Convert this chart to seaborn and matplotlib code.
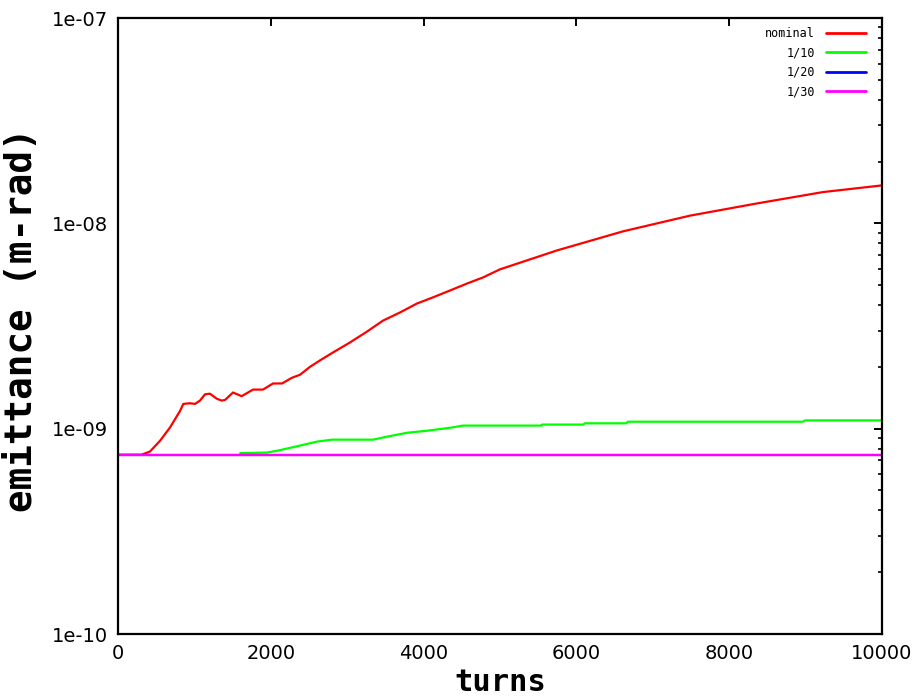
import numpy as np
import pandas as pd
import matplotlib
matplotlib.use("Agg")
import matplotlib.pyplot as plt
import matplotlib.ticker as mticker
import seaborn as sns

# ---- data ----
series_names = ["nominal", "1/10", "1/20", "1/30"]
series_colors = ["#ff0000", "#00ff00", "#0000ff", "#ff00ff"]

nominal_turns = [0, 310, 419, 550, 681, 812, 855, 942, 1008, 1073, 1139, 1204,
                 1292, 1357, 1401, 1505, 1619, 1767, 1898, 2029, 2147, 2277,
                 2382, 2513, 2644, 2814, 3037, 3259, 3469, 3691, 3914, 4123,
                 4346, 4568, 4777, 5000, 5746, 6610, 7487, 8364, 9228, 10000]
nominal_emit = [7.47e-10, 7.47e-10, 7.74e-10, 8.73e-10, 1.014e-9, 1.22e-9,
                1.32e-9, 1.33e-9, 1.32e-9, 1.37e-9, 1.47e-9, 1.48e-9,
                1.40e-9, 1.37e-9, 1.38e-9, 1.50e-9, 1.44e-9, 1.55e-9,
                1.55e-9, 1.66e-9, 1.66e-9, 1.77e-9, 1.83e-9, 2.00e-9,
                2.15e-9, 2.35e-9, 2.63e-9, 2.97e-9, 3.36e-9, 3.68e-9,
                4.07e-9, 4.36e-9, 4.71e-9, 5.09e-9, 5.45e-9, 5.97e-9,
                7.38e-9, 9.14e-9, 1.09e-8, 1.25e-8, 1.42e-8, 1.53e-8]

tenth_turns = [1600, 1950, 2094, 2382, 2605, 2801, 3338, 3521, 3783, 4045,
               4346, 4516, 5546, 5550, 6090, 6113, 6650, 6675, 8966, 8992, 10000]
tenth_emit = [7.6e-10, 7.65e-10, 7.82e-10, 8.27e-10, 8.65e-10, 8.84e-10,
              8.84e-10, 9.14e-10, 9.55e-10, 9.77e-10, 1.01e-9, 1.035e-9,
              1.035e-9, 1.047e-9, 1.047e-9, 1.062e-9, 1.062e-9, 1.081e-9,
              1.081e-9, 1.097e-9, 1.097e-9]

twentieth_turns = [0, 10000]
twentieth_emit = [7.47e-10, 7.47e-10]

thirtieth_turns = [0, 10000]
thirtieth_emit = [7.47e-10, 7.47e-10]

x_ticks = [0, 2000, 4000, 6000, 8000, 10000]
x_tick_labels = ["0", "2000", "4000", "6000", "8000", "10000"]
y_ticks = [1e-10, 1e-9, 1e-8, 1e-7]
y_tick_labels = ["1e-10", "1e-09", "1e-08", "1e-07"]

# ---- long-form table ----
frames = []
for name, t, e in zip(series_names,
                      [nominal_turns, tenth_turns, twentieth_turns, thirtieth_turns],
                      [nominal_emit, tenth_emit, twentieth_emit, thirtieth_emit]):
    frames.append(pd.DataFrame({"turns": t, "emittance": e, "series": name}))
df = pd.concat(frames, ignore_index=True)

sns.set_style("white")
plt.rcParams["font.family"] = ["DejaVu Sans"]
plt.rcParams["text.color"] = "black"
plt.rcParams["axes.labelcolor"] = "black"
plt.rcParams["xtick.color"] = "black"
plt.rcParams["ytick.color"] = "black"

fig = plt.figure(figsize=(9.16, 6.96), dpi=100)
W, H = 916, 696
ax = fig.add_axes([118 / W, 1 - 634 / H, (882 - 118) / W, (634 - 18) / H])

sns.lineplot(data=df, x="turns", y="emittance", hue="series",
             hue_order=series_names, palette=series_colors,
             linewidth=1.6, estimator=None, sort=False, ax=ax)

ax.set_yscale("log")
ax.set_xlim(0, 10000)
ax.set_ylim(1e-10, 1e-7)

ax.xaxis.set_major_locator(mticker.FixedLocator(x_ticks))
ax.xaxis.set_major_formatter(mticker.FixedFormatter(x_tick_labels))
ax.xaxis.set_minor_locator(mticker.NullLocator())
ax.yaxis.set_major_locator(mticker.FixedLocator(y_ticks))
ax.yaxis.set_major_formatter(mticker.FixedFormatter(y_tick_labels))
ax.yaxis.set_minor_locator(mticker.LogLocator(base=10, subs=np.arange(2, 10), numticks=20))
ax.yaxis.set_minor_formatter(mticker.NullFormatter())

ax.tick_params(axis="both", which="both", direction="in", top=True, right=True,
               color="black", labelcolor="black")
ax.tick_params(axis="both", which="major", length=6, width=1.4)
ax.tick_params(axis="y", which="minor", length=3, width=1.2)
ax.tick_params(axis="y", which="major", labelsize=14, pad=7)
ax.tick_params(axis="x", which="major", labelsize=14, pad=7)

for s in ax.spines.values():
    s.set_visible(True)
    s.set_color("black")
    s.set_linewidth(1.6)

ax.set_xlabel("turns", fontsize=22, fontweight="bold",
              family=["DejaVu Sans Mono"], color="black")
ax.set_ylabel("emittance (m-rad)", fontsize=27, fontweight="bold",
              family=["DejaVu Sans Mono"], color="black")
ax.xaxis.set_label_coords(0.5, -0.055)
ax.yaxis.set_label_coords(-0.102, 0.51)

leg = ax.legend(loc="upper right", bbox_to_anchor=(866 / W, 1 - 27 / H),
                bbox_transform=fig.transFigure, frameon=False,
                markerfirst=False, handlelength=3.4, handletextpad=0.9,
                labelspacing=0.55, borderaxespad=0, borderpad=0,
                prop={"family": "DejaVu Sans Mono", "size": 8.5})
for txt in leg.get_texts():
    txt.set_color("black")
for line in leg.get_lines():
    line.set_linewidth(2.0)

fig.savefig("out.png", dpi=100, facecolor="white")
